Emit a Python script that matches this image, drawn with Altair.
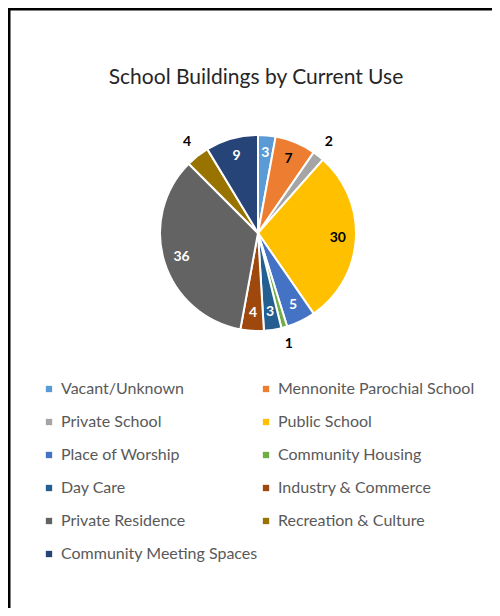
import altair as alt
import pandas as pd

cats = ["Vacant/Unknown", "Mennonite Parochial School", "Private School", "Public School",
        "Place of Worship", "Community Housing", "Day Care", "Industry & Commerce",
        "Private Residence", "Recreation & Culture", "Community Meeting Spaces"]
values = [3, 7, 2, 30, 5, 1, 3, 4, 36, 4, 9]
colors = ["#5B9BD5", "#ED7D31", "#A5A5A5", "#FFC000", "#4472C4", "#70AD47",
          "#255E91", "#9E480E", "#636363", "#997300", "#264478"]
outside_labels = ["Private School", "Community Housing", "Recreation & Culture"]
dark_labels = ["Mennonite Parochial School", "Public School"] + outside_labels

W, H = 484, 600
CX, CY = 250, 225

df = pd.DataFrame({"cat": cats, "value": values, "idx": list(range(len(cats)))})

base = alt.Chart(df).encode(x=alt.value(CX), y=alt.value(CY))

arcs = base.mark_arc(outerRadius=98, stroke="white", strokeWidth=2).encode(
    theta=alt.Theta("value:Q", stack=True),
    order=alt.Order("idx:Q"),
    color=alt.Color(
        "cat:N",
        scale=alt.Scale(domain=cats, range=colors),
        sort=cats,
        legend=alt.Legend(
            title=None, orient="none", legendX=33, legendY=373, columns=2,
            direction="horizontal",
            symbolType="square", symbolSize=40, symbolStrokeWidth=0,
            labelFontSize=16, labelFont="Lato", labelColor="#595959",
            rowPadding=17, columnPadding=0, labelOffset=4, labelLimit=300,
        ),
    ),
)

outside_expr = "indexof(" + str(outside_labels) + ", datum.cat) >= 0 ? 115 : 80"

labels = base.transform_window(
    cum="sum(value)", sort=[alt.SortField("idx")], frame=[None, 0]
).transform_joinaggregate(
    total="sum(value)"
).transform_calculate(
    ang="(datum.cum - datum.value / 2) / datum.total * 2 * PI",
    r=outside_expr,
).mark_text(font="Lato", fontWeight="bold", fontSize=14).encode(
    theta=alt.Theta("ang:Q", scale=None),
    radius=alt.Radius("r:Q", scale=None),
    text="value:Q",
    color=alt.condition(
        alt.FieldOneOfPredicate(field="cat", oneOf=dark_labels),
        alt.value("black"), alt.value("white")
    ),
)

frame_src = alt.Chart(pd.DataFrame({"k": [0]}))
frame_left = frame_src.mark_rule(color="black", strokeWidth=3).encode(
    x=alt.value(1), y=alt.value(0), y2=alt.value(H))
frame_top = frame_src.mark_rule(color="black", strokeWidth=3).encode(
    y=alt.value(1), x=alt.value(0), x2=alt.value(W))

chart = alt.layer(arcs, labels, frame_left, frame_top).properties(
    width=W, height=H, padding=0,
    autosize=alt.AutoSizeParams(type="none"),
    title=alt.Title("School Buildings by Current Use", offset=-81, dx=6, fontSize=21,
                    font="Lato", fontWeight="normal", color="#262626", anchor="middle"),
).configure_view(stroke=None)

chart.save("out.html", embed_options={"renderer": "svg", "actions": False})
